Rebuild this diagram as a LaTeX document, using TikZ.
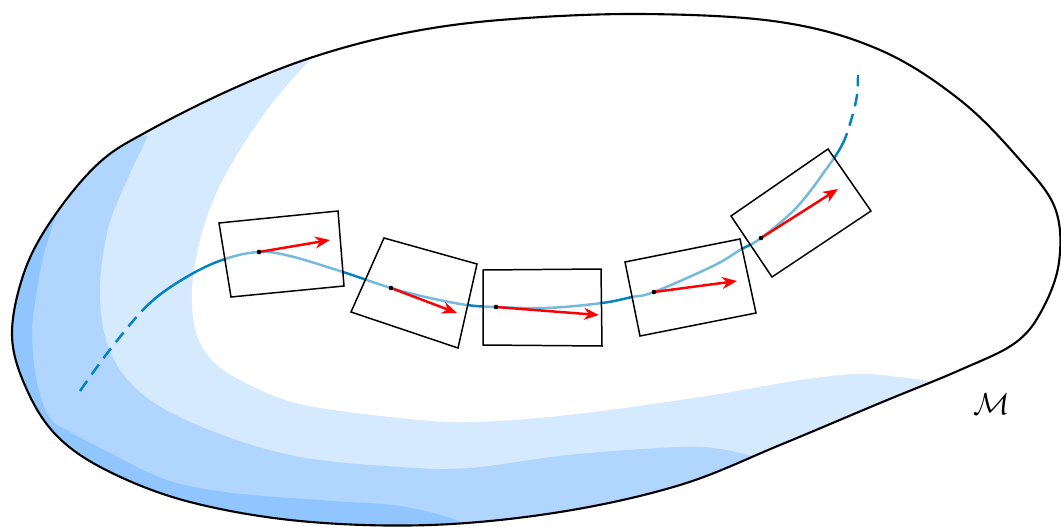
\documentclass[tikz,border=0pt]{standalone}
\usetikzlibrary{arrows.meta}
\definecolor{shlight}{RGB}{213,233,255}
\definecolor{shmid}{RGB}{176,213,255}
\definecolor{shdark}{RGB}{145,197,255}
\definecolor{geo}{RGB}{0,130,195}
\tikzset{
  bound/.style={line width=1.2pt, black},
  geoline/.style={line width=1.4pt, geo},
  geodash/.style={line width=1.4pt, geo, dash pattern=on 7pt off 4.5pt},
  plane/.style={line width=0.85pt, black, fill=white, fill opacity=0.45},
  vec/.style={line width=1.4pt, red, -{Stealth[length=3mm,width=2.4mm]}},
  dot/.style={fill=black}
}
\newcommand{\geopts}{(80,391) (112,347) (150,303) (190,275) (225,259) (259,252) (290,256) (343,272) (391,288) (430,298) (467,305) (496,307) (547,308) (602,303) (632,297) (654,292) (713,266) (740,250) (761,238) (797,207) (827,168) (843,143) (852,117) (857,95) (858,75)}
\begin{document}
\begin{tikzpicture}[x=0.02cm,y=-0.02cm]
\useasboundingbox (0,0) rectangle (1061,527);
% shading inside the manifold
\begin{scope}
\clip plot[smooth cycle, tension=0.6] coordinates {(12,335) (25,270) (55,215) (100,162) (150,130) (230,90) (310,58) (400,34) (500,20) (640,14) (780,22) (880,50) (960,100) (1020,160) (1055,208) (1059,262) (1042,310) (1015,343) (960,370) (880,403) (780,445) (680,485) (560,512) (430,525) (300,521) (190,502) (110,472) (58,437) (27,390)};
\fill[shlight] (-20,-20) rectangle (1100,560);
\fill[white] plot[smooth, tension=0.6] coordinates {(312,58) (290,82) (267,110) (240,150) (217,192) (200,240) (192,290) (196,332) (212,360) (242,381) (300,404) (400,418) (470,422) (568,415) (700,397) (800,380) (858,374) (900,377) (942,383)} -- (1100,383) -- (1100,-20) -- (322,-20) -- cycle;
\fill[shmid] plot[smooth, tension=0.6] coordinates {(148,136) (127,180) (107,233) (100,300) (113,358) (150,400) (217,433) (300,457) (400,467) (470,468) (568,455) (679,447) (720,449) (752,456)} -- (760,560) -- (-50,560) -- (-50,128) -- cycle;
\fill[shdark] plot[smooth, tension=0.6] coordinates {(58,210) (45,250) (37,290) (32,333) (37,383) (50,418) (70,432) (110,453) (167,480) (233,493) (333,501) (400,506) (456,520) (470,532)} -- (470,560) -- (-50,560) -- (-50,200) -- cycle;
\end{scope}
% boundary of the manifold
\draw[bound] plot[smooth cycle, tension=0.6] coordinates {(12,335) (25,270) (55,215) (100,162) (150,130) (230,90) (310,58) (400,34) (500,20) (640,14) (780,22) (880,50) (960,100) (1020,160) (1055,208) (1059,262) (1042,310) (1015,343) (960,370) (880,403) (780,445) (680,485) (560,512) (430,525) (300,521) (190,502) (110,472) (58,437) (27,390)};
% geodesic: dashed ends, solid middle
\begin{scope}
\clip (0,0) rectangle (150,527);
\draw[geodash] plot[smooth, tension=0.6] coordinates {\geopts};
\end{scope}
\begin{scope}
\clip (700,0) rectangle (1061,143);
\draw[geodash, dash phase=3pt] plot[smooth, tension=0.6] coordinates {\geopts};
\end{scope}
\begin{scope}
\clip (150,143) rectangle (1061,527);
\draw[geoline] plot[smooth, tension=0.6] coordinates {\geopts};
\end{scope}
% tangent planes
\draw[plane] (219,223) -- (338,211) -- (344,286) -- (231,297) -- cycle;
\draw[plane] (384,238) -- (477,264) -- (458,348) -- (351,312) -- cycle;
\draw[plane] (483,270) -- (601,269) -- (602,346) -- (483,345) -- cycle;
\draw[plane] (625,262) -- (740,239) -- (756,313) -- (640,336) -- cycle;
\draw[plane] (731,216) -- (828,149) -- (871,211) -- (772,277) -- cycle;
% points and tangent vectors
\coordinate (p1) at (259,252); \coordinate (t1) at (330,240);
\coordinate (p2) at (391,288); \coordinate (t2) at (457,313);
\coordinate (p3) at (496,307); \coordinate (t3) at (599,315);
\coordinate (p4) at (654,292); \coordinate (t4) at (737,281);
\coordinate (p5) at (761,238); \coordinate (t5) at (838,189);
\foreach \i in {1,...,5} {
  \draw[vec] (p\i) -- (t\i);
  \fill[dot] (p\i) circle[radius=1.3pt];
}
\node (M) at (992,404) {\fontsize{17pt}{20pt}\selectfont$\mathcal{M}$};
\end{tikzpicture}
\end{document}
